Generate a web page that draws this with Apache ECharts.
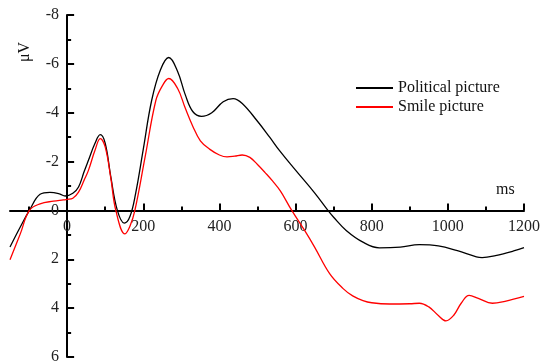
<!DOCTYPE html>
<html>
<head>
<meta charset="utf-8">
<script src="https://cdn.jsdelivr.net/npm/echarts@6/dist/echarts.min.js"></script>
<style>
  html, body { margin: 0; padding: 0; background: #fff; }
</style>
</head>
<body>
<div id="my-chart" style="width: 547px; height: 363px;"></div>
<script>
// ERP waveforms (ms, µV)
const politicalMs = [-150, -123, -99, -71, -45, -20, -5, 15, 30, 45, 56, 73, 87, 100, 115, 132, 150, 165, 180, 200, 222, 245, 267, 290, 310, 330, 353, 380, 410, 436, 460, 500, 532, 558, 600, 650, 685, 700, 733, 777, 820, 875, 925, 975, 1025, 1075, 1090, 1125, 1175, 1200];
const politicalUv = [1.5, 0.68, 0, -0.66, -0.74, -0.68, -0.59, -0.7, -0.96, -1.6, -2.05, -2.74, -3.1, -2.75, -1.35, 0, 0.52, 0.25, -0.7, -2.5, -4.5, -5.75, -6.26, -5.7, -4.75, -4.05, -3.85, -4.0, -4.45, -4.58, -4.38, -3.65, -3.0, -2.45, -1.65, -0.72, 0, 0.28, 0.82, 1.3, 1.53, 1.5, 1.4, 1.45, 1.65, 1.9, 1.93, 1.85, 1.65, 1.52];

const smileMs = [-150, -123, -99, -71, -36, -10, 0, 15, 30, 45, 56, 73, 87, 100, 115, 128, 152, 165, 178, 205, 233, 250, 267, 290, 310, 330, 350, 375, 400, 420, 440, 460, 480, 500, 520, 540, 560, 590, 625, 650, 690, 725, 750, 777, 800, 847, 900, 925, 950, 975, 995, 1015, 1035, 1056, 1080, 1117, 1150, 1200];
const smileUv = [2.02, 0.96, 0, -0.27, -0.38, -0.43, -0.45, -0.5, -0.75, -1.25, -1.64, -2.45, -2.94, -2.6, -1.3, 0, 0.96, 0.65, 0, -2.2, -4.5, -5.1, -5.4, -5.0, -4.2, -3.45, -2.85, -2.5, -2.27, -2.19, -2.22, -2.27, -2.17, -1.88, -1.55, -1.2, -0.8, 0, 0.85, 1.5, 2.6, 3.2, 3.5, 3.69, 3.78, 3.83, 3.82, 3.8, 3.95, 4.3, 4.52, 4.3, 3.8, 3.48, 3.6, 3.8, 3.72, 3.52];

const xMajorTicks = [0, 200, 400, 600, 800, 1000, 1200];
const xMinorTicks = [-100, 100, 300, 500, 700, 900, 1100];

const seriesNames = ["Political picture", "Smile picture"];

const xMin = -150, xMax = 1200;
const yMin = -8, yMax = 6;

const font = "'Liberation Serif', 'Times New Roman', serif";

const el = document.getElementById("my-chart");
const grid = { left: 10, right: 23, top: 15, bottom: 6 };
const plotW = el.clientWidth - grid.left - grid.right;
const plotH = el.clientHeight - grid.top - grid.bottom;
// axes cross at (0, 0): shift them inward from the grid edges
const yAxisOffset = -plotW * (0 - xMin) / (xMax - xMin);
const xAxisOffset = -plotH * (yMax - 0) / (yMax - yMin);

const myChart = echarts.init(el);
const option = {
  animation: false,
  grid: Object.assign({ containLabel: false, outerBoundsMode: "none" }, grid),
  legend: {
    orient: "vertical",
    left: 351,
    top: 75,
    itemWidth: 37,
    itemHeight: 2,
    itemGap: 3,
    icon: "rect",
    textStyle: { fontFamily: font, fontSize: 16, color: "#111" },
    data: seriesNames,
  },
  graphic: [
    {
      type: "text",
      left: 496,
      top: 182,
      style: { text: "ms", font: "16px " + font, fill: "#111" },
    },
    {
      type: "text",
      x: 17,
      y: 62,
      rotation: Math.PI / 2,
      style: { text: "μV", font: "16px " + font, fill: "#111" },
    },
  ],
  xAxis: [
    {
      type: "value",
      min: xMin,
      max: xMax,
      position: "bottom",
      offset: xAxisOffset,
      splitLine: { show: false },
      axisLine: { onZero: false, lineStyle: { color: "#000", width: 2 } },
      axisTick: { inside: true, length: 7, customValues: xMajorTicks, lineStyle: { color: "#000", width: 2 } },
      axisLabel: {
        customValues: xMajorTicks,
        margin: 8,
        formatter: (v) => String(v),
        fontFamily: font,
        fontSize: 16,
        color: "#222",
      },
    },
    {
      type: "value",
      min: xMin,
      max: xMax,
      position: "bottom",
      offset: xAxisOffset,
      splitLine: { show: false },
      axisLine: { show: false, onZero: false },
      axisTick: { inside: true, length: 4, customValues: xMinorTicks, lineStyle: { color: "#000", width: 2 } },
      axisLabel: { show: false },
    },
  ],
  yAxis: {
    type: "value",
    inverse: true,
    min: yMin,
    max: yMax,
    interval: 2,
    position: "left",
    offset: yAxisOffset,
    splitLine: { show: false },
    axisLine: { show: true, onZero: false, lineStyle: { color: "#000", width: 2 } },
    axisTick: { show: true, inside: true, length: 7, lineStyle: { color: "#000", width: 2 } },
    minorTick: { show: true, splitNumber: 2, length: 4, lineStyle: { color: "#000", width: 2 } },
    axisLabel: { margin: 8, fontFamily: font, fontSize: 16, color: "#222" },
  },
  series: [
    {
      name: seriesNames[0],
      type: "line",
      smooth: 0.4,
      showSymbol: false,
      color: "#000",
      lineStyle: { width: 1.3, color: "#000" },
      data: politicalMs.map((t, i) => [t, politicalUv[i]]),
    },
    {
      name: seriesNames[1],
      type: "line",
      smooth: 0.4,
      showSymbol: false,
      color: "#ff0000",
      lineStyle: { width: 1.3, color: "#ff0000" },
      data: smileMs.map((t, i) => [t, smileUv[i]]),
    },
  ],
};
myChart.setOption(option);
</script>
</body>
</html>
